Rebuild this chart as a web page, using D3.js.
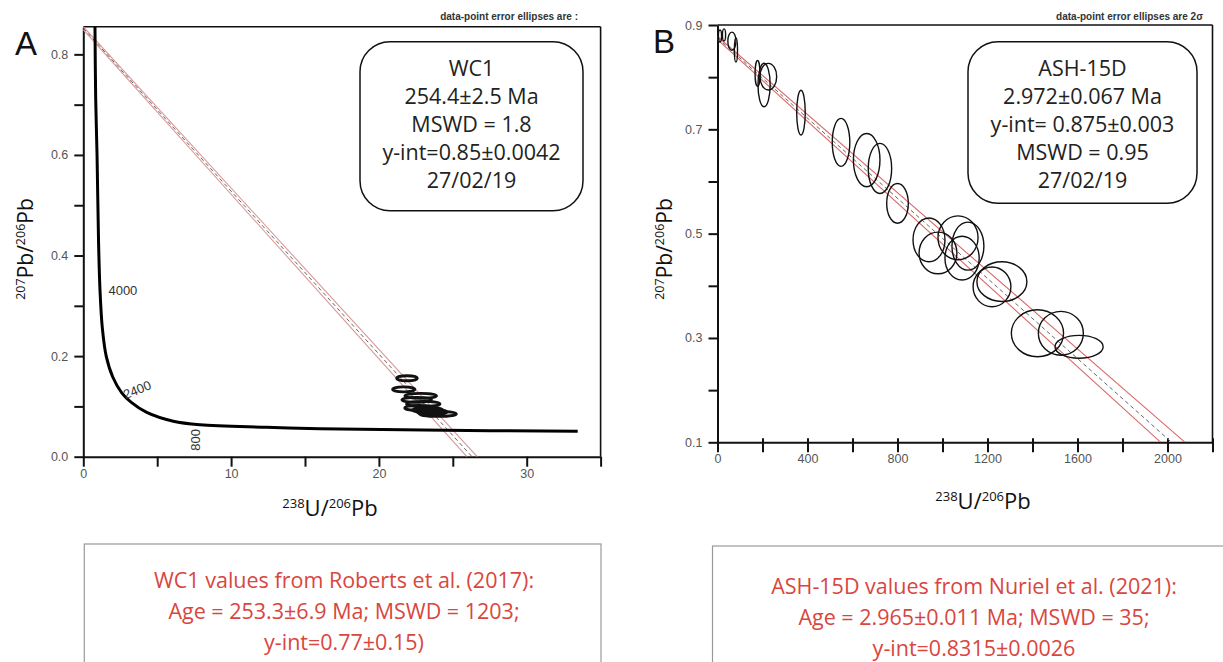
<!DOCTYPE html>
<html><head><meta charset="utf-8">
<script src="https://cdn.jsdelivr.net/npm/d3@7"></script>
<style>
html,body{margin:0;padding:0;background:#fff;}
svg{display:block;}
</style>
</head><body>
<svg id="chart" width="1223" height="662"></svg>
<script>
// ---------- DATA ----------
// Panel A (WC1) – Tera-Wasserburg
const A_xTicks = [0,5,10,15,20,25,30,35];
const A_xLabels = [0,10,20,30];
const A_yTicks = [0,0.1,0.2,0.3,0.4,0.5,0.6,0.7,0.8];
const A_yLabels = [0,0.2,0.4,0.6,0.8];
// concordia curve [238U/206Pb, 207Pb/206Pb]
const A_concordia = [[0.79,0.855],[0.84,0.71],[0.93,0.6],[1.03,0.43],[1.13,0.331],[1.29,0.255],[1.55,0.2],[2.0,0.158],[2.6,0.127],[3.25,0.108],[4.29,0.088],[6.09,0.0705],[7.9,0.0635],[12.4,0.0585],[16.0,0.0555],[23.0,0.053],[33.45,0.0504]];
const A_ageLabels = [{t:"4000",x:1.7,y:0.322,rot:0},{t:"2400",x:2.85,y:0.114,rot:-22},{t:"800",x:7.9,y:0.012,rot:-90}];
// data-point ellipses [x, y, rx, ry]
const A_ellipses = [[21.9,0.156,0.70,0.005],[21.68,0.134,0.76,0.005],[22.83,0.121,1.07,0.005],[22.56,0.113,1.0,0.005],[23.0,0.105,1.13,0.005],[22.7,0.097,0.95,0.005],[23.3,0.093,1.0,0.005],[23.6,0.089,1.0,0.005],[24.0,0.085,1.24,0.005]];
// discordia: [x0,y0,x1,y1]
const A_disc = {center:[0,0.852,26.3,0], upper:[0,0.855,26.65,0], lower:[0,0.849,25.95,0]};
const A_info = ["WC1","254.4\u00b12.5 Ma","MSWD = 1.8","y-int=0.85\u00b10.0042","27/02/19"];
const A_ref = ["WC1 values from Roberts et al. (2017):","Age = 253.3\u00b16.9 Ma; MSWD = 1203;","y-int=0.77\u00b10.15)"];

// Panel B (ASH-15D)
const B_xTicks = [0,200,400,600,800,1000,1200,1400,1600,1800,2000,2200];
const B_xLabels = [0,400,800,1200,1600,2000];
const B_yTicks = [0.1,0.2,0.3,0.4,0.5,0.6,0.7,0.8,0.9];
const B_yLabels = [0.1,0.3,0.5,0.7,0.9];
const B_ellipses = [[11,0.879,7,0.0115],[29,0.881,7,0.0115],[64,0.869,18,0.0173],[82,0.852,7,0.023],[178,0.807,11,0.025],[207,0.785,27,0.0416],[226,0.801,37,0.0255],[371,0.732,19,0.043],[549,0.675,39,0.046],[663,0.641,59,0.051],[722,0.625,52,0.048],[800,0.558,48,0.038],[940,0.488,71,0.042],[980,0.463,84,0.040],[1069,0.492,89,0.042],[1087,0.453,76,0.042],[1113,0.476,71,0.046],[1220,0.398,84,0.038],[1264,0.408,111,0.038],[1422,0.309,116,0.045],[1526,0.309,100,0.042],[1607,0.283,107,0.022]];
const B_disc = {center:[0,0.875,2018,0.1], upper:[0,0.878,2078,0.1], lower:[0,0.872,1970,0.1]};
const B_info = ["ASH-15D","2.972\u00b10.067 Ma","y-int= 0.875\u00b10.003","MSWD = 0.95","27/02/19"];
const B_ref = ["ASH-15D values from Nuriel et al. (2021):","Age = 2.965\u00b10.011 Ma; MSWD = 35;","y-int=0.8315\u00b10.0026"];

// ---------- DRAW ----------
const svg = d3.select("#chart");
const TICKFONT = "'Liberation Sans', Arial, sans-serif";
const TEXTFONT = "'Open Sans', sans-serif";
const RED = "#d9463e";

function panel(cfg){
  const g = svg.append("g");
  const x = d3.scaleLinear(cfg.xDom, cfg.xRange);
  const y = d3.scaleLinear(cfg.yDom, cfg.yRange);
  const [x0,x1] = cfg.xRange, [y0,y1] = cfg.yRange;
  g.append("line").attr("x1",x0).attr("x2",x1).attr("y1",y1).attr("y2",y1).attr("stroke","#111").attr("stroke-width",1.6);
  g.append("line").attr("x1",x1).attr("x2",x1).attr("y1",y1).attr("y2",y0).attr("stroke","#111").attr("stroke-width",1.6);
  const xa = d3.axisBottom(x).tickValues(cfg.xTicks).tickSize(10).tickSizeOuter(0).tickPadding(2)
      .tickFormat(d => cfg.xLabels.includes(d) ? d3.format("d")(d) : "");
  const ya = d3.axisLeft(y).tickValues(cfg.yTicks).tickSize(9).tickSizeOuter(0).tickPadding(6)
      .tickFormat(d => cfg.yLabels.some(v=>Math.abs(v-d)<1e-9) ? d3.format(".1f")(d) : "");
  const gx = g.append("g").attr("transform",`translate(0,${y0})`).call(xa);
  const gy = g.append("g").attr("transform",`translate(${x0},0)`).call(ya);
  [gx,gy].forEach(a=>{
    a.select(".domain").attr("stroke","#111").attr("stroke-width",2);
    a.selectAll(".tick line").attr("stroke","#111").attr("stroke-width",2);
    a.selectAll(".tick text").attr("font-family",TICKFONT).attr("font-size",12.5).attr("fill","#555");
  });
  if(cfg.xTickUp) gx.selectAll(".tick line").attr("y1",-cfg.xTickUp);
  const cid = "clip"+cfg.id;
  svg.append("clipPath").attr("id",cid).append("rect").attr("x",x0).attr("y",y1).attr("width",x1-x0).attr("height",y0-y1);
  const pg = g.append("g").attr("clip-path",`url(#${cid})`);
  const line = d3.line().x(d=>x(d[0])).y(d=>y(d[1]));
  const seg = a => [[a[0],a[1]],[a[2],a[3]]];
  pg.append("path").attr("d",line(seg(cfg.disc.upper))).attr("fill","none").attr("stroke",cfg.envColor).attr("stroke-width",1.1);
  pg.append("path").attr("d",line(seg(cfg.disc.lower))).attr("fill","none").attr("stroke",cfg.envColor).attr("stroke-width",1.1);
  pg.append("path").attr("d",line(seg(cfg.disc.center))).attr("fill","none").attr("stroke","#666").attr("stroke-width",1).attr("stroke-dasharray","4,3");
  if(cfg.concordia){
    pg.append("path").attr("d",d3.line().x(d=>x(d[0])).y(d=>y(d[1])).curve(d3.curveCatmullRom.alpha(0.5))(cfg.concordia))
      .attr("fill","none").attr("stroke","#000").attr("stroke-width",3);
  }
  pg.selectAll("ellipse.pt").data(cfg.ellipses).join("ellipse").attr("class","pt")
    .attr("cx",d=>x(d[0])).attr("cy",d=>y(d[1]))
    .attr("rx",d=>Math.abs(x(d[0]+d[2])-x(d[0]))).attr("ry",d=>Math.abs(y(d[1]+d[3])-y(d[1])))
    .attr("fill","none").attr("stroke","#111").attr("stroke-width",cfg.ellStroke);
  if(cfg.ageLabels){
    g.selectAll("text.age").data(cfg.ageLabels).join("text").attr("class","age")
      .attr("transform",d=>`translate(${x(d.x)},${y(d.y)}) rotate(${d.rot})`)
      .attr("font-family",TICKFONT).attr("font-size",13).attr("fill","#333").text(d=>d.t);
  }
  g.append("text").attr("x",cfg.letterX).attr("y",cfg.letterY).attr("font-family",TICKFONT).attr("font-size",33).attr("fill","#111").text(cfg.letter);
  g.append("text").attr("x",cfg.noteX).attr("y",20).attr("text-anchor","end").attr("font-family",TICKFONT).attr("font-size",10)
    .attr("font-weight","bold").attr("fill","#333").text(cfg.note);
  const xt = g.append("text").attr("x",cfg.xTitleX).attr("y",cfg.xTitleY).attr("text-anchor","middle").attr("font-family",TEXTFONT).attr("font-size",22).attr("fill","#111");
  xt.append("tspan").attr("font-size",13).attr("dy",-8).text("238");
  xt.append("tspan").attr("dy",8).text("U/");
  xt.append("tspan").attr("font-size",13).attr("dy",-8).text("206");
  xt.append("tspan").attr("dy",8).text("Pb");
  const yt = g.append("text").attr("transform",`translate(${cfg.yTitleX},${cfg.yTitleY}) rotate(-90)`).attr("text-anchor","middle").attr("font-family",TEXTFONT).attr("font-size",21).attr("fill","#111");
  yt.append("tspan").attr("font-size",12.5).attr("dy",-8).text("207");
  yt.append("tspan").attr("dy",8).text("Pb/");
  yt.append("tspan").attr("font-size",12.5).attr("dy",-8).text("206");
  yt.append("tspan").attr("dy",8).text("Pb");
  const b = cfg.box;
  g.append("rect").attr("x",b[0]).attr("y",b[1]).attr("width",b[2]-b[0]).attr("height",b[3]-b[1]).attr("rx",30).attr("ry",30)
    .attr("fill","#fff").attr("stroke","#111").attr("stroke-width",1.5);
  g.selectAll("text.info").data(cfg.info).join("text").attr("class","info")
    .attr("x",(b[0]+b[2])/2).attr("y",(d,i)=>cfg.infoY0+i*28).attr("text-anchor","middle")
    .attr("font-family",TEXTFONT).attr("font-size",21.5).attr("fill","#222").text(d=>d);
  const r = cfg.refBox;
  g.append("rect").attr("x",r[0]).attr("y",r[1]).attr("width",r[2]-r[0]).attr("height",r[3]-r[1]).attr("fill","none").attr("stroke","#999").attr("stroke-width",1.2);
  g.selectAll("text.ref").data(cfg.ref).join("text").attr("class","ref")
    .attr("x",cfg.refX).attr("y",(d,i)=>cfg.refY0+i*31).attr("text-anchor","middle")
    .attr("font-family",TEXTFONT).attr("font-size",21.5).attr("fill",RED).text(d=>d);
}

panel({id:"A", xDom:[0,35], xRange:[83.3,600.6], yDom:[0,0.855], yRange:[456.7,26.7],
  xTicks:A_xTicks, xLabels:A_xLabels, yTicks:A_yTicks, yLabels:A_yLabels,
  disc:A_disc, envColor:"#d99a9a", concordia:A_concordia, ellipses:A_ellipses, ellStroke:2.8, ageLabels:A_ageLabels,
  letter:"A", letterX:15, letterY:55, note:"data-point error ellipses are :", noteX:578,
  xTitleX:330, xTitleY:516, yTitleX:33, yTitleY:249,
  box:[360,41.7,583,210.7], info:A_info, infoY0:76,
  refBox:[84.3,544,601,700], ref:A_ref, refX:344, refY0:588});

panel({id:"B", xDom:[0,2200], xRange:[717.5,1212.5], yDom:[0.1,0.9], yRange:[442.3,25],
  xTicks:B_xTicks, xLabels:B_xLabels, yTicks:B_yTicks, yLabels:B_yLabels, xTickUp:4,
  disc:B_disc, envColor:"#d86a6a", ellipses:B_ellipses, ellStroke:1.4,
  letter:"B", letterX:653, letterY:53, note:"data-point error ellipses are 2\u03c3", noteX:1203,
  xTitleX:983, xTitleY:509, yTitleX:672, yTitleY:249,
  box:[968,41.7,1197,203.3], info:B_info, infoY0:75.5,
  refBox:[712.5,546,1240,700], ref:B_ref, refX:974, refY0:594});
</script>
</body></html>
